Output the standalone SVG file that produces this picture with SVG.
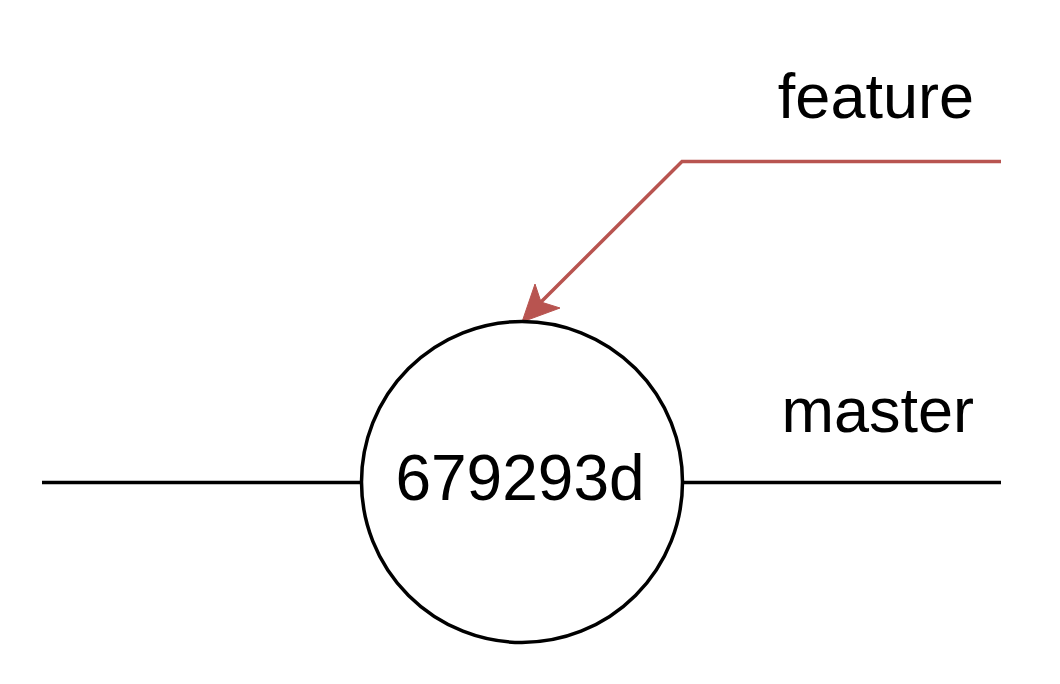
<svg xmlns="http://www.w3.org/2000/svg" width="1060" height="684" viewBox="0 0 1060 684">
<style>
.lbl{font-family:"Liberation Sans",Arial,sans-serif;fill:#000}
.ln{stroke:#000;stroke-width:3.5;fill:none}
.red{stroke:#b85450;stroke-width:3.5;fill:none}
</style>
<rect width="1060" height="684" fill="#fff"/>
<g id="connectors">
<line class="ln" x1="42" y1="482.5" x2="361" y2="482.5"/>
<line class="ln" x1="683" y1="482.5" x2="1001" y2="482.5"/>
<polyline class="red" points="1001,161.5 682,161.5 538,305"/>
<polygon points="522,322 535,284 541,302 560,308" fill="#b85450" stroke="#b85450" stroke-width="1"/>
</g>
<g id="commit">
<circle cx="522" cy="482" r="160.5" fill="#fff" stroke="#000" stroke-width="3.5"/>
<text class="lbl" x="520" y="500" font-size="64" text-anchor="middle">679293d</text>
</g>
<g id="feature">
<text class="lbl" x="974" y="118" font-size="63" text-anchor="end">feature</text>
</g>
<g id="master">
<text class="lbl" x="974" y="432" font-size="63" text-anchor="end">master</text>
</g>
</svg>
